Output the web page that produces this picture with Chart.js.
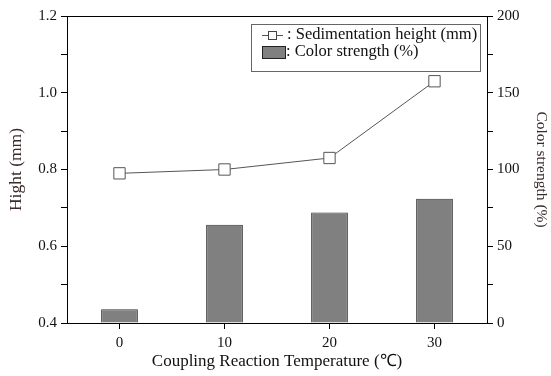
<!DOCTYPE html>
<html>
<head>
<meta charset="utf-8">
<script src="https://cdn.jsdelivr.net/npm/chart.js@4"></script>
<style>
  html, body { margin: 0; padding: 0; background: #fff; }
  #wrap { width: 551px; height: 376px; }
</style>
</head>
<body>
<div id="wrap"><canvas id="c" width="551" height="376"></canvas></div>
<script>
const categories = ['0', '10', '20', '30'];
const sedimentationHeight = [0.79, 0.80, 0.83, 1.03];
const colorStrength = [9, 64, 72, 81];
const leftTicks = [0.4, 0.6, 0.8, 1.0, 1.2];
const rightTicks = [0, 50, 100, 150, 200];

const FONT = 'Liberation Serif, Times New Roman, serif';

const frameAndLegend = {
  id: 'frameAndLegend',
  afterDatasetsDraw(chart) {
    const ctx = chart.ctx;
    const a = chart.chartArea;
    ctx.save();
    ctx.strokeStyle = '#000';
    ctx.lineWidth = 1;
    ctx.strokeRect(Math.round(a.left) + 0.5, Math.round(a.top) + 0.5,
                   Math.round(a.right - a.left), Math.round(a.bottom - a.top));
    // legend box
    const lx = 251, ly = 24, lw = 229, lh = 47;
    ctx.fillStyle = '#fff';
    ctx.fillRect(lx, ly, lw, lh);
    ctx.strokeStyle = '#666';
    ctx.strokeRect(lx + 0.5, ly + 0.5, lw, lh);
    const ds = chart.data.datasets;
    // row 1: line + square
    const y1 = 35;
    ctx.strokeStyle = '#555';
    ctx.beginPath();
    ctx.moveTo(262, y1 + 0.5); ctx.lineTo(268, y1 + 0.5);
    ctx.moveTo(277, y1 + 0.5); ctx.lineTo(283, y1 + 0.5);
    ctx.stroke();
    ctx.strokeStyle = '#444';
    ctx.strokeRect(268.5, y1 - 3.5, 8, 8);
    ctx.fillStyle = '#111';
    ctx.font = '16.5px ' + FONT;
    ctx.textBaseline = 'middle';
    ctx.textAlign = 'left';
    ctx.fillText(': ' + ds[0].label, 287, y1);
    // row 2: bar box
    const y2 = 52;
    ctx.fillStyle = '#808080';
    ctx.fillRect(262, y2 - 6, 23, 12);
    ctx.strokeStyle = '#222';
    ctx.strokeRect(262.5, y2 - 5.5, 23, 12);
    ctx.fillStyle = '#111';
    ctx.fillText(': ' + ds[1].label, 286, y2);
    ctx.restore();
  }
};

new Chart(document.getElementById('c'), {
  data: {
    labels: categories,
    datasets: [
      {
        type: 'line',
        label: 'Sedimentation height (mm)',
        data: sedimentationHeight,
        yAxisID: 'y',
        borderColor: '#555',
        borderWidth: 1,
        pointStyle: 'rect',
        pointRadius: 8,
        pointBackgroundColor: '#fff',
        pointBorderColor: '#555',
        pointBorderWidth: 1,
        tension: 0,
        order: 0
      },
      {
        type: 'bar',
        label: 'Color strength (%)',
        data: colorStrength,
        yAxisID: 'y2',
        backgroundColor: '#808080',
        borderColor: '#333',
        borderWidth: 1,
        barPercentage: 0.35,
        categoryPercentage: 1,
        order: 1
      }
    ]
  },
  options: {
    responsive: false,
    animation: false,
    layout: { padding: { left: 0, right: 0, top: 16, bottom: 0 } },
    plugins: { legend: { display: false }, tooltip: { enabled: false } },
    scales: {
      x: {
        type: 'category',
        offset: true,
        grid: { offset: false, drawOnChartArea: false, drawTicks: true, tickLength: 6, color: '#000' },
        border: { display: true, color: '#000' },
        ticks: { color: '#111', font: { family: FONT, size: 15 }, padding: 5, maxRotation: 0 },
        title: { display: true, text: 'Coupling Reaction Temperature (℃)', color: '#111',
                 font: { family: FONT, size: 17 }, padding: { top: 0, bottom: 4 } },
        afterFit(s) { s.height = 53; }
      },
      y: {
        position: 'left',
        min: 0.4, max: 1.2,
        grid: { drawOnChartArea: false, drawTicks: true, tickLength: 6, color: '#000' },
        border: { display: true, color: '#000' },
        ticks: {
          stepSize: 0.1,
          color: '#111',
          font: { family: FONT, size: 15 },
          padding: 4,
          callback(v) {
            const r = Math.round(v * 10) / 10;
            return leftTicks.some(t => Math.abs(t - r) < 1e-6) ? r.toFixed(1) : '';
          }
        },
        title: { display: true, text: 'Hight (mm)', color: '#3a2a2a',
                 font: { family: FONT, size: 17.5 }, padding: { top: 6, bottom: 0 } },
        afterFit(s) { s.width = 67; }
      },
      y2: {
        position: 'right',
        min: 0, max: 200,
        grid: { drawOnChartArea: false, drawTicks: true, tickLength: 6, color: '#000' },
        border: { display: true, color: '#000' },
        ticks: {
          stepSize: 25,
          color: '#111',
          font: { family: FONT, size: 15 },
          padding: 4,
          callback(v) { return rightTicks.includes(v) ? String(v) : ''; }
        },
        title: { display: true, text: 'Color strength (%)', color: '#3a2a2a',
                 font: { family: FONT, size: 15.5 }, padding: { top: 1, bottom: 0 } },
        afterFit(s) { s.width = 64; }
      }
    }
  },
  plugins: [frameAndLegend]
});
</script>
</body>
</html>
